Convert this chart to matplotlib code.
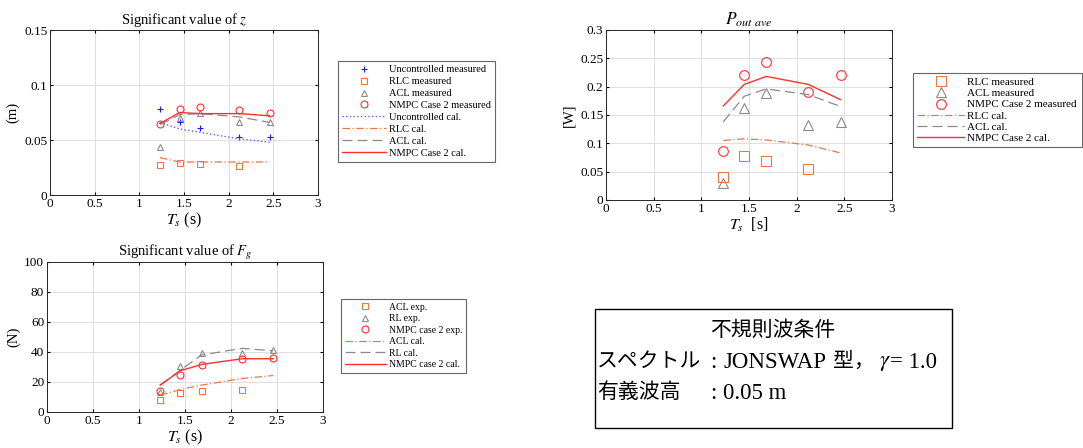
import matplotlib

matplotlib.use("Agg")
import matplotlib.pyplot as plt
from matplotlib.patches import Rectangle

# wave periods (s)
ts = [1.23, 1.45, 1.68, 2.12, 2.46]
ts4 = ts[:4]

# significant value of z (m)
z_unc_meas = [0.078, 0.066, 0.061, 0.053, 0.053]
z_rlc_meas = [0.027, 0.029, 0.028, 0.026]
z_acl_meas = [0.044, 0.070, 0.075, 0.066, 0.066]
z_nmpc_meas = [0.065, 0.078, 0.080, 0.077, 0.075]
z_unc_cal = [0.066, 0.060, 0.057, 0.051, 0.048]
z_rlc_cal = [0.034, 0.030, 0.030, 0.030, 0.030]
z_acl_cal = [0.064, 0.073, 0.074, 0.071, 0.066]
z_nmpc_cal = [0.065, 0.075, 0.074, 0.074, 0.072]

# average output power (W)
p_rlc_meas = [0.041, 0.077, 0.068, 0.055]
p_acl_meas = [0.030, 0.163, 0.189, 0.132, 0.138]
p_nmpc_meas = [0.087, 0.220, 0.243, 0.191, 0.221]
p_rlc_cal = [0.105, 0.108, 0.106, 0.097, 0.083]
p_acl_cal = [0.138, 0.183, 0.196, 0.186, 0.165]
p_nmpc_cal = [0.166, 0.204, 0.218, 0.204, 0.177]

# significant value of Fg (N)
f_acl_exp = [8.0, 12.9, 14.3, 14.5]
f_rl_exp = [13.6, 30.6, 39.3, 39.3, 41.3]
f_nmpc_exp = [14.3, 24.6, 31.0, 35.0, 36.2]
f_acl_cal = [11.2, 15.0, 17.9, 22.3, 24.3]
f_rl_cal = [17.9, 27.9, 38.0, 42.4, 40.8]
f_nmpc_cal = [17.9, 27.5, 31.7, 35.5, 35.5]

RED = "#ff3030"
ORANGE = "#e8784a"
GRAY = "#8a8a8a"
BLUE = "#1a1aff"
LBLUE = "#6060ff"

plt.rcParams.update({
    "font.family": ["Liberation Serif", "Noto Sans CJK JP"],
    "mathtext.fontset": "stix",
    "font.size": 9,
    "axes.linewidth": 0.7,
    "axes.edgecolor": "#262626",
    "xtick.direction": "in",
    "ytick.direction": "in",
    "xtick.major.size": 2.5,
    "ytick.major.size": 2.5,
    "xtick.top": True,
    "ytick.right": True,
})


def style_axes(ax, ylim, yticks, ylabels):
    ax.set_xlim(0, 3)
    ax.set_xticks([0, 0.5, 1, 1.5, 2, 2.5, 3])
    ax.set_xticklabels(["0", "0.5", "1", "1.5", "2", "2.5", "3"])
    ax.set_ylim(*ylim)
    ax.set_yticks(yticks)
    ax.set_yticklabels(ylabels)
    ax.grid(True, color="#dedede", linewidth=0.7)
    ax.set_axisbelow(True)
    ax.tick_params(labelsize=9.5, pad=2)


def make_legend(fig, ax, anchor, fontsize=7.5, spacing=0.25):
    leg = fig.legend(*ax.get_legend_handles_labels(), loc="upper left",
                     bbox_to_anchor=anchor, fontsize=fontsize, frameon=True,
                     fancybox=False, edgecolor="#404040", handlelength=4.2,
                     labelspacing=spacing, borderpad=0.4, handletextpad=0.3,
                     borderaxespad=0)
    leg.get_frame().set_linewidth(0.8)
    return leg


mk = dict(linestyle="none", markerfacecolor="none", markersize=5, markeredgewidth=0.8)
mk_big = dict(mk, markersize=7)
DASHDOT = (0, (6, 2, 1, 2))
DASH = (0, (8, 4))

fig = plt.figure(figsize=(10.83, 4.48), dpi=100)

# --- significant value of z ---
ax1 = fig.add_axes([0.0462, 0.5647, 0.2475, 0.3683])
ax1.plot(ts, z_unc_meas, marker="+", color=BLUE, label="Uncontrolled measured", **mk)
ax1.plot(ts4, z_rlc_meas, marker="s", color=ORANGE, label="RLC measured", **mk)
ax1.plot(ts, z_acl_meas, marker="^", color=GRAY, label="ACL measured", **mk)
ax1.plot(ts, z_nmpc_meas, marker="o", color=RED, label="NMPC Case 2 measured", **mk)
ax1.plot(ts, z_unc_cal, linestyle=":", color=LBLUE, lw=1.0, label="Uncontrolled cal.")
ax1.plot(ts, z_rlc_cal, linestyle=DASHDOT, color=ORANGE, lw=0.9, label="RLC cal.")
ax1.plot(ts, z_acl_cal, linestyle=DASH, color=GRAY, lw=0.9, label="ACL cal.")
ax1.plot(ts, z_nmpc_cal, linestyle="-", color=RED, lw=1.0, label="NMPC Case 2 cal.")
style_axes(ax1, (0, 0.15), [0, 0.05, 0.1, 0.15], ["0", "0.05", "0.1", "0.15"])
ax1.set_title("Significant value of $z$", fontsize=10.5, pad=4)
ax1.set_ylabel("(m)", fontsize=10.5, labelpad=3)
ax1.set_xlabel("$T_s$ (s)", fontsize=11.5, labelpad=1)
make_legend(fig, ax1, (338 / 1083, 1 - 61 / 448))

# --- average output power ---
ax2 = fig.add_axes([0.5596, 0.5536, 0.2641, 0.3795])
ax2.plot(ts4, p_rlc_meas, marker="s", color=ORANGE, label="RLC measured", **mk_big)
ax2.plot(ts, p_acl_meas, marker="^", color=GRAY, label="ACL measured", **mk_big)
ax2.plot(ts, p_nmpc_meas, marker="o", color=RED, label="NMPC Case 2 measured", **mk_big)
ax2.plot(ts, p_rlc_cal, linestyle=DASHDOT, color=ORANGE, lw=0.9, label="RLC cal.")
ax2.plot(ts, p_acl_cal, linestyle=DASH, color=GRAY, lw=0.9, label="ACL cal.")
ax2.plot(ts, p_nmpc_cal, linestyle="-", color=RED, lw=1.0, label="NMPC Case 2 cal.")
style_axes(ax2, (0, 0.3), [0, 0.05, 0.1, 0.15, 0.2, 0.25, 0.3],
           ["0", "0.05", "0.1", "0.15", "0.2", "0.25", "0.3"])
ax2.set_title("$P_{out\\ ave}$", fontsize=12.5, pad=4)
ax2.set_ylabel("[W]", fontsize=10.5, labelpad=3)
ax2.set_xlabel("$T_s$  [s]", fontsize=11.5, labelpad=1)
make_legend(fig, ax2, (913 / 1083, 1 - 73 / 448), fontsize=8, spacing=0.12)

# --- significant value of Fg ---
ax3 = fig.add_axes([0.0434, 0.0804, 0.2548, 0.3348])
ax3.plot(ts4, f_acl_exp, marker="s", color=ORANGE, label="ACL exp.", **mk)
ax3.plot(ts, f_rl_exp, marker="^", color=GRAY, label="RL exp.", **mk)
ax3.plot(ts, f_nmpc_exp, marker="o", color=RED, label="NMPC case 2 exp.", **mk)
ax3.plot(ts, f_acl_cal, linestyle=DASHDOT, color=ORANGE, lw=0.9, label="ACL cal.")
ax3.plot(ts, f_rl_cal, linestyle=DASH, color=GRAY, lw=0.9, label="RL cal.")
ax3.plot(ts, f_nmpc_cal, linestyle="-", color=RED, lw=1.0, label="NMPC case 2 cal.")
style_axes(ax3, (0, 100), [0, 20, 40, 60, 80, 100], ["0", "20", "40", "60", "80", "100"])
ax3.set_title("Significant value of $F_g$", fontsize=10.5, pad=4)
ax3.set_ylabel("(N)", fontsize=10.5, labelpad=3)
ax3.set_xlabel("$T_s$ (s)", fontsize=11.5, labelpad=1)
make_legend(fig, ax3, (341 / 1083, 1 - 299 / 448), fontsize=7)

# --- wave condition box ---
W, H = 1083.0, 448.0
FS = 15     # japanese
FL = 16.5   # latin
fig.patches.append(Rectangle((595 / W, 1 - 428 / H), (952 - 595) / W, (428 - 309) / H,
                             transform=fig.transFigure, fill=False,
                             edgecolor="black", linewidth=1.0))
fig.text(773 / W, 1 - 331 / H, "不規則波条件", ha="center", va="center", fontsize=FS)
y2 = 1 - 362 / H
fig.text(597 / W, y2, "スペクトル", ha="left", va="center", fontsize=FS)
fig.text(713 / W, y2, ":", ha="center", va="center", fontsize=FL)
fig.text(723 / W, y2, "JONSWAP", ha="left", va="center", fontsize=FL)
fig.text(833 / W, y2, "型，", ha="left", va="center", fontsize=FS)
fig.text(879 / W, y2, "$\\gamma$", ha="left", va="center", fontsize=FL)
fig.text(890 / W, y2, "= 1.0", ha="left", va="center", fontsize=FL)
y3 = 1 - 393 / H
fig.text(597 / W, y3, "有義波高", ha="left", va="center", fontsize=FS)
fig.text(713 / W, y3, ":", ha="center", va="center", fontsize=FL)
fig.text(723 / W, y3, "0.05 m", ha="left", va="center", fontsize=FL)

fig.savefig("out.png", dpi=100)
